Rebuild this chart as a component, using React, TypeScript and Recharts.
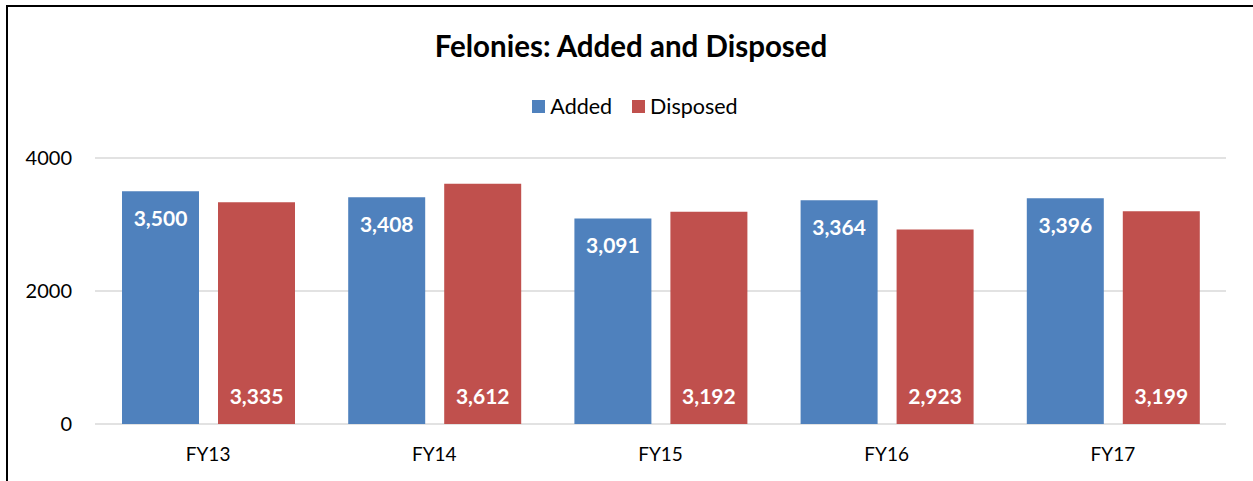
import React from "react";
import { BarChart, Bar, XAxis, YAxis, CartesianGrid, LabelList } from "recharts";

const categories = ["FY13", "FY14", "FY15", "FY16", "FY17"];
const added = [3500, 3408, 3091, 3364, 3396];
const disposed = [3335, 3612, 3192, 2923, 3199];
const yTicks = [0, 2000, 4000];

const data = categories.map((c, i) => ({ name: c, Added: added[i], Disposed: disposed[i] }));

const FONT = "Lato, 'Open Sans', sans-serif";
const fmt = (v: any) => Number(v).toLocaleString("en-US");

const legendItems = [
  { n: "Added", c: "#4f81bd" },
  { n: "Disposed", c: "#c0504d" },
];

export default function App() {
  return (
    <div style={{ position: "fixed", left: 0, top: 0, width: 1253, height: 481, overflow: "hidden", background: "#fff" }}>
      <div style={{ position: "absolute", left: 6, top: 5, width: 1280, height: 520, border: "2px solid #000", boxSizing: "border-box" }} />
      <div style={{ position: "absolute", left: 0, top: 28, width: 1262, textAlign: "center", fontFamily: FONT, fontWeight: 700, fontSize: 29.5, color: "#000", lineHeight: "36px" }}>
        Felonies: Added and Disposed
      </div>
      <div style={{ position: "absolute", left: 0, top: 93, width: 1270, display: "flex", justifyContent: "center", gap: 20, fontFamily: FONT, fontSize: 21.5, color: "#000", lineHeight: "26px" }}>
        {legendItems.map((it) => (
          <div key={it.n} style={{ display: "flex", alignItems: "center" }}>
            <span style={{ display: "inline-block", width: 13, height: 13, background: it.c, marginRight: 5 }} />
            <span>{it.n}</span>
          </div>
        ))}
      </div>
      <div style={{ position: "absolute", left: 0, top: 0 }}>
        <BarChart
          width={1253}
          height={481}
          data={data}
          margin={{ top: 158, right: 27, bottom: 27, left: 0 }}
          barSize={77}
          barGap={19}
        >
          <CartesianGrid horizontal vertical={false} stroke="#d9d9d9" strokeWidth={1.5} />
          <XAxis
            dataKey="name"
            height={30}
            axisLine={false}
            tickLine={false}
            tickSize={0}
            tickMargin={24}
            tick={{ fill: "#000", fontSize: 19, fontFamily: FONT }}
          />
          <YAxis
            width={95}
            domain={[0, 4000]}
            ticks={yTicks}
            axisLine={false}
            tickLine={false}
            tickSize={0}
            tickMargin={23}
            tick={{ fill: "#000", fontSize: 20, fontFamily: FONT }}
          />
          <Bar dataKey="Added" fill="#4f81bd" isAnimationActive={false}>
            <LabelList dataKey="Added" position="insideTop" offset={20} formatter={fmt} fill="#fff" fontSize={21} fontWeight={700} fontFamily={FONT} />
          </Bar>
          <Bar dataKey="Disposed" fill="#c0504d" isAnimationActive={false}>
            <LabelList dataKey="Disposed" position="insideBottom" offset={20} formatter={fmt} fill="#fff" fontSize={21} fontWeight={700} fontFamily={FONT} />
          </Bar>
        </BarChart>
      </div>
    </div>
  );
}
